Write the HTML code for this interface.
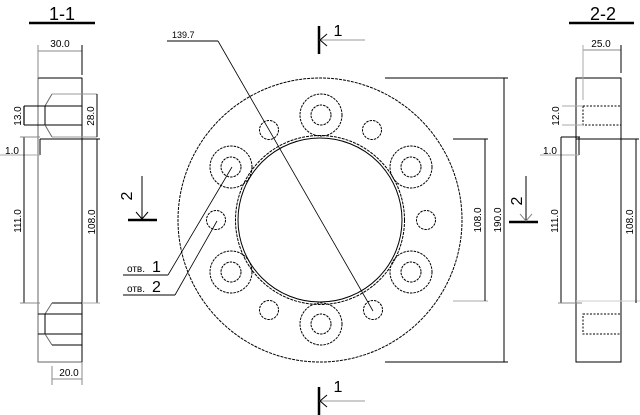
<!DOCTYPE html>
<html><head><meta charset="utf-8"><style>
html,body{margin:0;padding:0;background:#fff;}
svg{display:block;}
text{font-family:"Liberation Sans",sans-serif;fill:#000;}
</style></head><body>
<svg width="640" height="415" viewBox="0 0 640 415" xmlns="http://www.w3.org/2000/svg">
<g fill="none" stroke="#000" stroke-width="1">
<!-- ===== Section 1-1 ===== -->
<line x1="29" y1="23" x2="95" y2="23" stroke-width="2.5"/>
<rect x="38" y="78" width="44" height="284" stroke="#666"/>
<line x1="82" y1="78" x2="82" y2="362"/>
<line x1="38" y1="78" x2="82" y2="78"/>
<line x1="38" y1="51" x2="82" y2="51" stroke="#888"/>
<line x1="38" y1="45" x2="38" y2="78" stroke="#888"/>
<line x1="82" y1="45" x2="82" y2="75"/>
<line x1="52" y1="94" x2="97" y2="94" stroke="#999"/>
<line x1="52" y1="94" x2="45" y2="106" stroke="#666"/>
<line x1="24" y1="106" x2="82" y2="106"/>
<line x1="45" y1="106" x2="45" y2="125"/>
<line x1="24" y1="125" x2="82" y2="125"/>
<line x1="45" y1="125" x2="52" y2="137" stroke="#666"/>
<line x1="52" y1="137" x2="97" y2="137" stroke="#999"/>
<line x1="40" y1="139" x2="100" y2="139"/>
<line x1="24" y1="106" x2="24" y2="125" stroke-width="1.2"/>
<line x1="97" y1="94" x2="97" y2="137"/>
<line x1="40" y1="139" x2="40" y2="155"/>
<line x1="0" y1="155" x2="40" y2="155" stroke="#aaa"/>
<line x1="24" y1="137" x2="24" y2="303"/>
<line x1="20" y1="137" x2="40" y2="137" stroke="#888"/>
<line x1="20" y1="303" x2="40" y2="303" stroke="#888"/>
<line x1="97" y1="139" x2="97" y2="303"/>
<line x1="82" y1="303" x2="100" y2="303" stroke="#aaa"/>
<line x1="52" y1="303" x2="82" y2="303"/>
<line x1="52" y1="303" x2="45" y2="314" stroke="#666"/>
<line x1="38" y1="314" x2="82" y2="314"/>
<line x1="45" y1="314" x2="45" y2="334"/>
<line x1="38" y1="334" x2="82" y2="334"/>
<line x1="45" y1="334" x2="52" y2="345" stroke="#666"/>
<line x1="52" y1="345" x2="82" y2="345"/>
<line x1="52" y1="366" x2="52" y2="385" stroke="#888"/>
<line x1="82" y1="362" x2="82" y2="385" stroke="#888"/>
<line x1="52" y1="379" x2="82" y2="379" stroke="#888"/>

<!-- ===== Section 2-2 ===== -->
<line x1="569" y1="23" x2="634" y2="23" stroke-width="2.5"/>
<rect x="576" y="78" width="45" height="284"/>
<line x1="583" y1="50" x2="621" y2="50" stroke="#888"/>
<line x1="583" y1="45" x2="583" y2="100" stroke="#aaa"/>
<line x1="621" y1="45" x2="621" y2="73"/>
<rect x="583" y="106" width="38" height="19" stroke-dasharray="2,1.5"/>
<rect x="583" y="314" width="38" height="20" stroke-dasharray="2,1.5"/>
<line x1="562" y1="106" x2="583" y2="106" stroke="#aaa"/>
<line x1="562" y1="125" x2="583" y2="125" stroke="#aaa"/>
<line x1="561" y1="137" x2="580" y2="137"/>
<line x1="576" y1="139" x2="639" y2="139"/>
<line x1="579" y1="137" x2="579" y2="155"/>
<line x1="540" y1="155" x2="579" y2="155" stroke="#aaa"/>
<line x1="561" y1="137" x2="561" y2="303"/>
<line x1="558" y1="303" x2="582" y2="303" stroke="#888"/>
<line x1="576" y1="301" x2="640" y2="301" stroke="#ccc"/>
<line x1="636" y1="139" x2="636" y2="303"/>

<!-- ===== Main plan ===== -->
<circle cx="320" cy="220" r="142" stroke-dasharray="3,1"/>
<circle cx="320" cy="220" r="82"/>
<circle cx="320" cy="220" r="84.5" stroke-dasharray="3,1"/>
<g stroke-dasharray="2.5,1">
<circle cx="321" cy="115" r="21"/><circle cx="321" cy="115" r="10"/>
<circle cx="411" cy="167" r="21"/><circle cx="411" cy="167" r="10"/>
<circle cx="411" cy="272" r="21"/><circle cx="411" cy="272" r="10"/>
<circle cx="321" cy="324" r="21"/><circle cx="321" cy="324" r="10"/>
<circle cx="231" cy="272" r="21"/><circle cx="231" cy="272" r="10"/>
<circle cx="231" cy="167" r="21"/><circle cx="231" cy="167" r="10"/>
<circle cx="269" cy="130" r="9.5"/><circle cx="372" cy="130" r="9.5"/>
<circle cx="426" cy="220" r="9.5"/><circle cx="373" cy="310" r="9.5"/>
<circle cx="269" cy="310" r="9.5"/><circle cx="216" cy="220" r="9.5"/>
</g>
<line x1="385" y1="78" x2="508" y2="78"/>
<line x1="385" y1="362" x2="508" y2="362"/>
<line x1="504" y1="78" x2="504" y2="362"/>
<line x1="453" y1="139" x2="488" y2="139"/>
<line x1="453" y1="301" x2="488" y2="301" stroke="#aaa"/>
<line x1="485" y1="139" x2="485" y2="301"/>
<line x1="167" y1="41" x2="218" y2="41"/>
<line x1="218" y1="41" x2="373" y2="311" stroke-width="0.8"/>
<line x1="123" y1="275" x2="168" y2="275"/>
<line x1="168" y1="275" x2="232" y2="167" stroke-width="0.8"/>
<line x1="123" y1="295" x2="175" y2="295"/>
<line x1="175" y1="295" x2="217" y2="221" stroke-width="0.8"/>
<line x1="319" y1="26" x2="319" y2="54" stroke-width="2.5"/>
<line x1="319" y1="40" x2="365" y2="40" stroke="#999"/>
<path d="M327 34 L320 40 L327 46"/>
<line x1="319" y1="387" x2="319" y2="415" stroke-width="2.5"/>
<line x1="319" y1="401" x2="365" y2="401" stroke="#999"/>
<path d="M327 395 L320 401 L327 407"/>
<line x1="128" y1="220" x2="157" y2="220" stroke-width="2.5"/>
<line x1="142" y1="176" x2="142" y2="219"/>
<path d="M136 212 L142 219 L148 212"/>
<line x1="509" y1="222" x2="538" y2="222" stroke-width="2.5"/>
<line x1="526" y1="176" x2="526" y2="221"/>
<path d="M520 214 L526 221 L532 214" stroke="#888"/>
</g>
<text x="62" y="20" font-size="18" text-anchor="middle">1-1</text>
<text x="603" y="20" font-size="18" text-anchor="middle">2-2</text>
<text x="60" y="47" font-size="10" text-anchor="middle">30.0</text>
<text x="601" y="47" font-size="10" text-anchor="middle">25.0</text>
<text x="69" y="376" font-size="10" text-anchor="middle">20.0</text>
<text x="12" y="154" font-size="10" text-anchor="middle">1.0</text>
<text x="550" y="154" font-size="10" text-anchor="middle">1.0</text>
<text transform="translate(21,116) rotate(-90)" font-size="10" text-anchor="middle">13.0</text>
<text transform="translate(94,116) rotate(-90)" font-size="10" text-anchor="middle">28.0</text>
<text transform="translate(21,221) rotate(-90)" font-size="10" text-anchor="middle">111.0</text>
<text transform="translate(95,222) rotate(-90)" font-size="10" text-anchor="middle">108.0</text>
<text transform="translate(559,116) rotate(-90)" font-size="10" text-anchor="middle">12.0</text>
<text transform="translate(558,221) rotate(-90)" font-size="10" text-anchor="middle">111.0</text>
<text transform="translate(633,222) rotate(-90)" font-size="10" text-anchor="middle">108.0</text>
<text transform="translate(481,220) rotate(-90)" font-size="10" text-anchor="middle">108.0</text>
<text transform="translate(501,220) rotate(-90)" font-size="10" text-anchor="middle">190.0</text>
<text x="172" y="38" font-size="9">139.7</text>
<text x="338" y="36" font-size="16" text-anchor="middle">1</text>
<text x="338" y="392" font-size="16" text-anchor="middle">1</text>
<text transform="translate(132,196) rotate(-90)" font-size="16" text-anchor="middle">2</text>
<text transform="translate(522,201) rotate(-90)" font-size="16" text-anchor="middle">2</text>
<text x="127" y="272" font-size="10">отв.</text><text x="152" y="272" font-size="16">1</text>
<text x="127" y="292" font-size="10">отв.</text><text x="152" y="292" font-size="16">2</text>
</svg>
</body></html>
